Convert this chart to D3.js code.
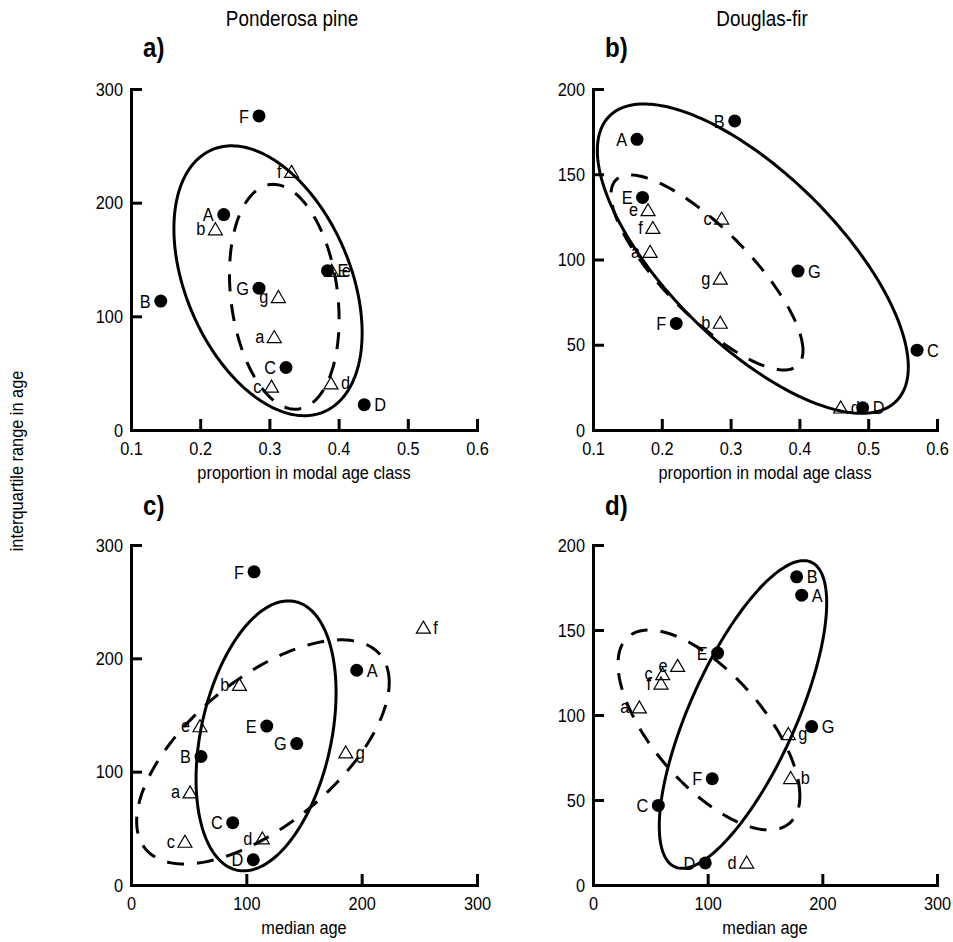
<!DOCTYPE html>
<html>
<head>
<meta charset="utf-8">
<script src="https://cdn.jsdelivr.net/npm/d3@7"></script>
<style>
  body { margin: 0; background: #fff; }
  svg text { font-family: "Liberation Sans", Arial, sans-serif; fill: #000; }
</style>
</head>
<body>
<svg id="chart" width="953" height="942"></svg>
<script>
// Stand codes: filled circles (upper case) and open triangles (lower case)
const upperCodes = ["A", "B", "C", "D", "E", "F", "G"];
const lowerCodes = ["a", "b", "c", "d", "e", "f", "g"];

// Ponderosa pine
const pineUpperProp   = [0.234, 0.143, 0.324, 0.437, 0.384, 0.285, 0.285];
const pineUpperMedian = [195.7, 60.7, 88.2, 106, 117.7, 106.7, 143.7];
const pineUpperIqr    = [189.5, 113.4, 55, 22.3, 140.2, 276.3, 124.8];
const pineLowerProp   = [0.307, 0.222, 0.303, 0.389, 0.390, 0.332, 0.313];
const pineLowerMedian = [51.2, 94, 46.8, 113.9, 59.8, 253.5, 186.2];
const pineLowerIqr    = [82.2, 177, 38.6, 41.5, 140.5, 227.5, 117.4];

// Douglas-fir
const firUpperProp   = [0.164, 0.306, 0.571, 0.492, 0.172, 0.221, 0.398];
const firUpperMedian = [182, 177.6, 57, 97.9, 108.7, 104, 190.7];
const firUpperIqr    = [170.5, 181.3, 46.8, 13, 136.4, 62.5, 93.2];
const firLowerProp   = [0.183, 0.285, 0.287, 0.460, 0.180, 0.187, 0.285];
const firLowerMedian = [40.4, 172.4, 60.8, 134, 73.8, 59.3, 170.3];
const firLowerIqr    = [104.8, 63.2, 124.3, 13.5, 129.2, 118.8, 89.1];

// Ellipses: [centre x, centre y, half-extent x, half-extent y, correlation]
const ellipseA_solid  = [0.298, 131.3, 0.136, 118.7, -0.386];
const ellipseA_dashed = [0.3215, 117.2, 0.0792, 98.9, -0.2];
const ellipseB_solid  = [0.3323, 100.5, 0.226, 90.7, -0.70];
const ellipseB_dashed = [0.2657, 92.4, 0.1395, 57.2, -0.80];
const ellipseC_solid  = [117.1, 131.6, 60.7, 119.1, 0.32];
const ellipseC_dashed = [114.4, 117.4, 109.5, 98.9, 0.62];
const ellipseD_solid  = [130.8, 100.3, 73, 90.5, 0.725];
const ellipseD_dashed = [101.1, 91.2, 79.3, 58.8, -0.66];

// Axis ticks
const propTicks    = [0.1, 0.2, 0.3, 0.4, 0.5, 0.6];
const medianTicks  = [0, 100, 200, 300];
const pineIqrTicks = [0, 100, 200, 300];
const firIqrTicks  = [0, 50, 100, 150, 200];

const svg = d3.select("#chart");

// Condensed look: squeeze text horizontally around its anchor side
function narrow(sel, origin) {
  sel.style("transform-box", "fill-box")
     .style("transform-origin", origin + " center")
     .style("transform", "scaleX(0.86)");
  return sel;
}

const panels = [
  { letter: "a)", letterPos: [143, 57], title: "Ponderosa pine", titlePos: [292, 26],
    left: 131, right: 477, top: 89, bottom: 430,
    xDomain: [0.1, 0.6], xTicks: propTicks, xFmt: d3.format(".1f"), xTitle: "proportion in modal age class",
    yDomain: [0, 300], yTicks: pineIqrTicks,
    ux: pineUpperProp, uy: pineUpperIqr, lx: pineLowerProp, ly: pineLowerIqr,
    uSide: "LLLRRLL", lSide: "LLLRRLL",
    solid: ellipseA_solid, dashed: ellipseA_dashed },
  { letter: "b)", letterPos: [605, 57], title: "Douglas-fir", titlePos: [762, 26],
    left: 593, right: 937, top: 89, bottom: 430,
    xDomain: [0.1, 0.6], xTicks: propTicks, xFmt: d3.format(".1f"), xTitle: "proportion in modal age class",
    yDomain: [0, 200], yTicks: firIqrTicks,
    ux: firUpperProp, uy: firUpperIqr, lx: firLowerProp, ly: firLowerIqr,
    uSide: "LLRRLLR", lSide: "LLLRLLL",
    solid: ellipseB_solid, dashed: ellipseB_dashed },
  { letter: "c)", letterPos: [143, 515],
    left: 131, right: 477, top: 545, bottom: 885,
    xDomain: [0, 300], xTicks: medianTicks, xFmt: d3.format("d"), xTitle: "median age",
    yDomain: [0, 300], yTicks: pineIqrTicks,
    ux: pineUpperMedian, uy: pineUpperIqr, lx: pineLowerMedian, ly: pineLowerIqr,
    uSide: "RLLLLLL", lSide: "LLLLLRR",
    solid: ellipseC_solid, dashed: ellipseC_dashed },
  { letter: "d)", letterPos: [605, 515],
    left: 593, right: 937, top: 545, bottom: 885,
    xDomain: [0, 300], xTicks: medianTicks, xFmt: d3.format("d"), xTitle: "median age",
    yDomain: [0, 200], yTicks: firIqrTicks,
    ux: firUpperMedian, uy: firUpperIqr, lx: firLowerMedian, ly: firLowerIqr,
    uSide: "RRLLLLR", lSide: "LRLLLLR",
    solid: ellipseD_solid, dashed: ellipseD_dashed }
];

function ellipsePoints(e) {
  const [cx, cy, sx, sy, rho] = e;
  const k = Math.sqrt(1 - rho * rho);
  return d3.range(0, 240).map(i => {
    const t = i / 240 * 2 * Math.PI;
    return [cx + sx * Math.cos(t), cy + sy * (rho * Math.cos(t) + k * Math.sin(t))];
  });
}

panels.forEach(p => {
  const x = d3.scaleLinear().domain(p.xDomain).range([p.left, p.right]);
  const y = d3.scaleLinear().domain(p.yDomain).range([p.bottom, p.top]);
  const g = svg.append("g");

  // Axes with inward ticks
  const ax = g.append("g")
    .attr("transform", `translate(0,${p.bottom})`)
    .call(d3.axisBottom(x).tickValues(p.xTicks).tickFormat(p.xFmt)
      .tickSize(-11).tickSizeOuter(0).tickPadding(12));
  const ay = g.append("g")
    .attr("transform", `translate(${p.left},0)`)
    .call(d3.axisLeft(y).tickValues(p.yTicks).tickFormat(d3.format("d"))
      .tickSize(-11).tickSizeOuter(0).tickPadding(8));
  [ax, ay].forEach(a => {
    a.attr("font-family", null).attr("font-size", null);
    a.select(".domain").attr("stroke", "#000").attr("stroke-width", 3).attr("stroke-linecap", "square");
    a.selectAll(".tick line").attr("stroke", "#000").attr("stroke-width", 3);
    a.selectAll(".tick text").style("font-size", "19px").attr("fill", "#000");
  });
  narrow(ax.selectAll(".tick text"), "center");
  narrow(ay.selectAll(".tick text"), "right");

  narrow(g.append("text")
    .attr("x", (p.left + p.right) / 2)
    .attr("y", p.bottom + 49)
    .attr("text-anchor", "middle")
    .style("font-size", "19px")
    .text(p.xTitle), "center");

  // Ellipses
  const line = d3.line().x(d => x(d[0])).y(d => y(d[1])).curve(d3.curveLinearClosed);
  g.append("path").attr("d", line(ellipsePoints(p.solid)))
    .attr("fill", "none").attr("stroke", "#000").attr("stroke-width", 3);
  g.append("path").attr("d", line(ellipsePoints(p.dashed)))
    .attr("fill", "none").attr("stroke", "#000").attr("stroke-width", 3)
    .attr("stroke-dasharray", "17,13");

  // Open triangles
  lowerCodes.forEach((c, i) => {
    const px = x(p.lx[i]), py = y(p.ly[i]);
    g.append("path")
      .attr("d", `M${px},${py - 6}L${px + 7},${py + 6}L${px - 7},${py + 6}Z`)
      .attr("fill", "none").attr("stroke", "#000").attr("stroke-width", 1.2);
    const right = p.lSide[i] === "R";
    narrow(g.append("text")
      .attr("x", px + (right ? 10 : -10)).attr("y", py)
      .attr("dy", "0.35em")
      .attr("text-anchor", right ? "start" : "end")
      .style("font-size", "19px")
      .text(c), right ? "left" : "right");
  });

  // Filled circles
  upperCodes.forEach((c, i) => {
    const px = x(p.ux[i]), py = y(p.uy[i]);
    g.append("circle").attr("cx", px).attr("cy", py).attr("r", 6.5).attr("fill", "#000");
    const right = p.uSide[i] === "R";
    narrow(g.append("text")
      .attr("x", px + (right ? 10 : -10)).attr("y", py)
      .attr("dy", "0.35em")
      .attr("text-anchor", right ? "start" : "end")
      .style("font-size", "19px")
      .text(c), right ? "left" : "right");
  });

  narrow(g.append("text")
    .attr("x", p.letterPos[0]).attr("y", p.letterPos[1])
    .style("font-size", "28px").style("font-weight", "bold")
    .text(p.letter), "left");

  if (p.title) {
    narrow(g.append("text")
      .attr("x", p.titlePos[0]).attr("y", p.titlePos[1])
      .attr("text-anchor", "middle")
      .style("font-size", "22px")
      .text(p.title), "center");
  }
});

narrow(svg.append("g")
  .attr("transform", "translate(23,461) rotate(-90)")
  .append("text")
  .attr("text-anchor", "middle")
  .style("font-size", "19px")
  .text("interquartile range in age"), "center");
</script>
</body>
</html>
